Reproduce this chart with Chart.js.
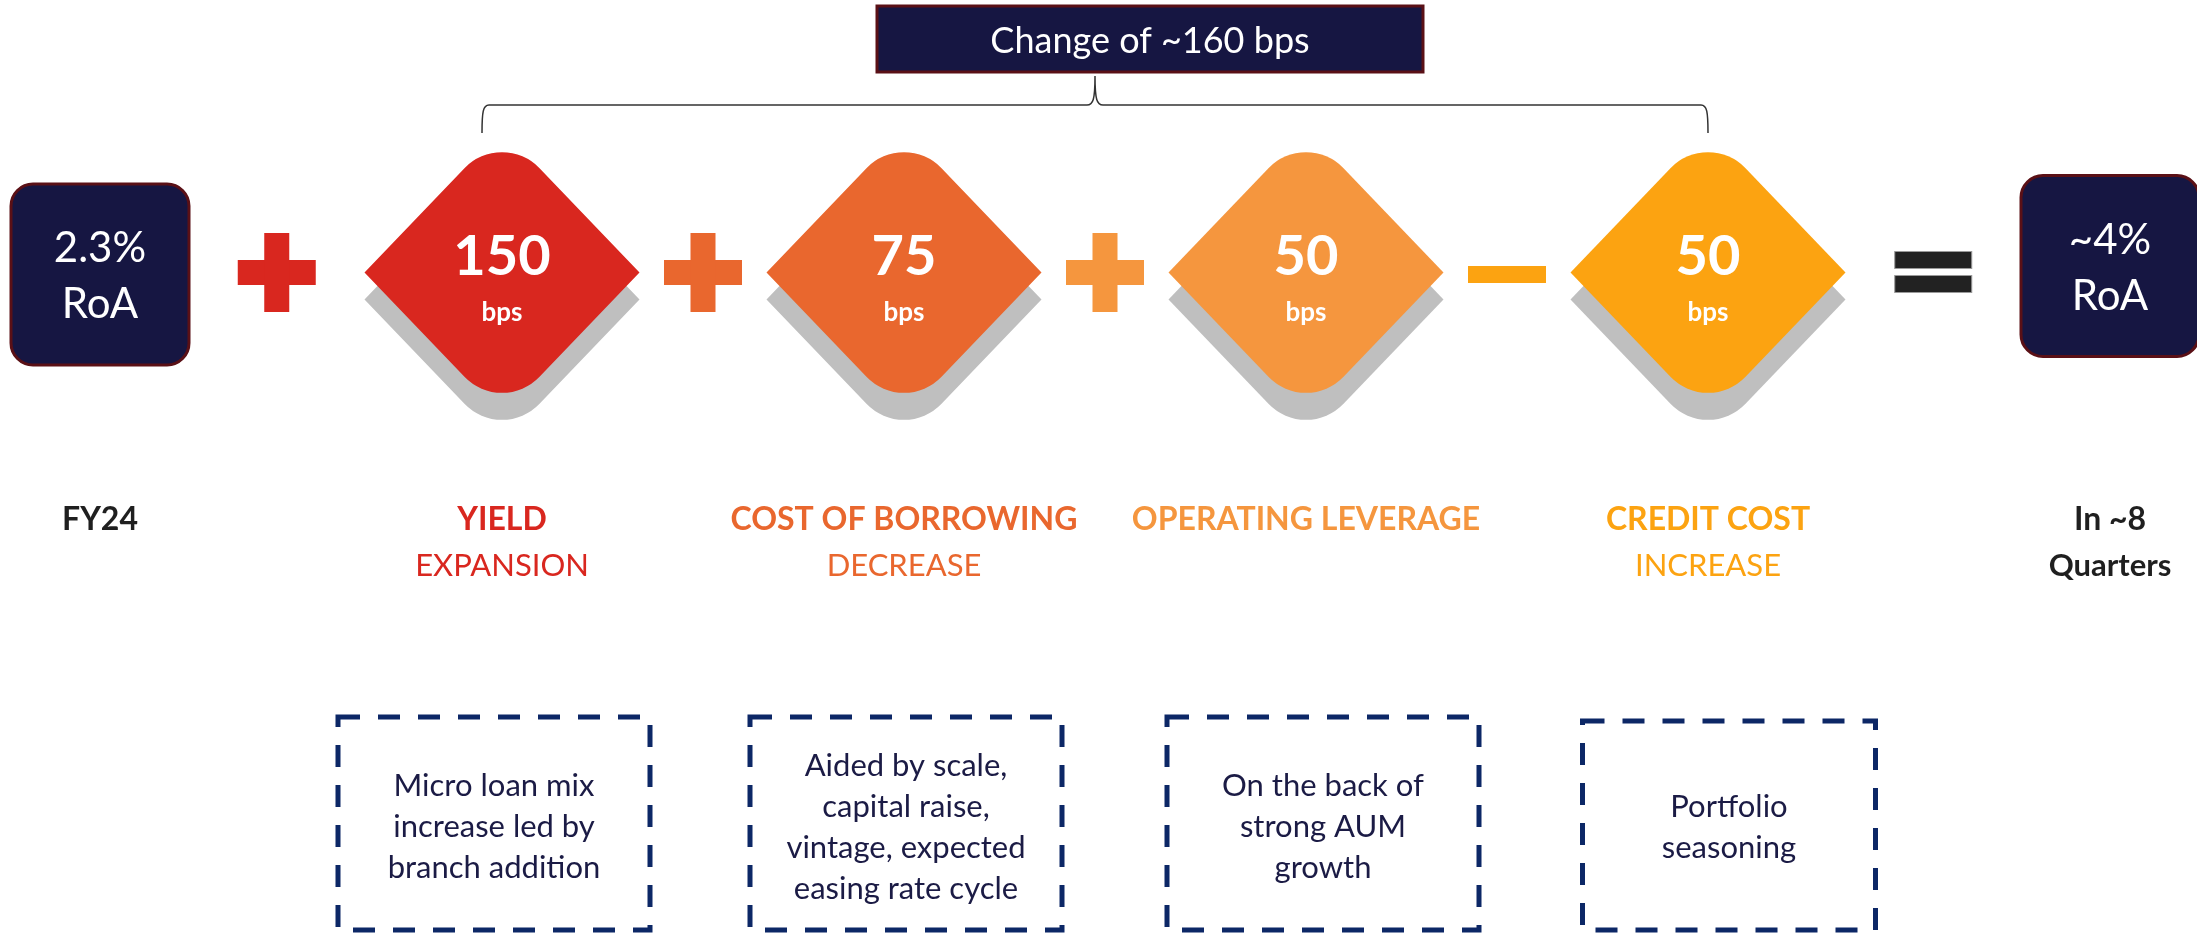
<!DOCTYPE html>
<html>
<head>
<meta charset="utf-8">
<title>RoA bridge</title>
<script src="https://cdn.jsdelivr.net/npm/chart.js@4.4.1/dist/chart.umd.min.js"></script>
<style>
  html, body { margin: 0; padding: 0; background: #fff; }
  #wrap { width: 2197px; height: 933px; position: relative; }
</style>
</head>
<body>
<div id="wrap"><canvas id="roaChart"></canvas></div>
<script>
// ---- data ----
const stepNames = ["FY24", "YIELD", "COST OF BORROWING", "OPERATING LEVERAGE", "CREDIT COST", "In ~8"];
const stepSubNames = ["", "EXPANSION", "DECREASE", "", "INCREASE", "Quarters"];
const startRoA = "2.3%";
const endRoA = "~4%";
const roaUnit = "RoA";
const driverValues = [150, 75, 50, 50];
const driverUnit = "bps";
const operators = ["+", "+", "+", "−", "="];
const changeLabel = "Change of ~160 bps";
const driverNotes = [
  ["Micro loan mix", "increase led by", "branch addition"],
  ["Aided by scale,", "capital raise,", "vintage, expected", "easing rate cycle"],
  ["On the back of", "strong AUM", "growth"],
  ["Portfolio", "seasoning"]
];

// ---- look ----
const FONT = "Lato, 'Open Sans', sans-serif";
const NAVY = "#161642";
const MAROON = "#5a1016";
const stepColors = ["#1f1f1f", "#d9271f", "#e9672e", "#f5963e", "#fca311", "#1f1f1f"];
const ROW_Y = 272.5;

function roundedDiamond(ctx, cx, cy, w, h, r) {
  ctx.beginPath();
  ctx.moveTo(cx - w, cy);
  ctx.arcTo(cx, cy - h, cx + w, cy, r);
  ctx.lineTo(cx + w, cy);
  ctx.arcTo(cx, cy + h, cx - w, cy, r);
  ctx.closePath();
}

function navyBox(ctx, x, y, w, h, r) {
  ctx.beginPath();
  ctx.roundRect(x, y, w, h, r);
  ctx.fillStyle = NAVY;
  ctx.fill();
  ctx.lineWidth = 3;
  ctx.strokeStyle = MAROON;
  ctx.stroke();
}

const bridgePlugin = {
  id: "bridge",
  afterDatasetsDraw(chart) {
    const ctx = chart.ctx;
    const pts = chart.getDatasetMeta(0).data;
    const yPx = (v) => chart.scales.y.getPixelForValue(v);
    const last = pts.length - 1;
    const boxHalf = 89, dHalfW = 137.5, dHalfH = 143.5;

    ctx.save();
    ctx.textAlign = "center";
    ctx.textBaseline = "alphabetic";

    // end boxes (the closing one sits a touch higher)
    [[0, startRoA, 2], [last, endRoA, -6.5]].forEach(([i, txt, dy]) => {
      const cx = pts[i].x, cy = pts[i].y + dy;
      navyBox(ctx, cx - boxHalf, cy - 90.5, boxHalf * 2, 181, 22);
      ctx.fillStyle = "#fff";
      ctx.font = "400 42px " + FONT;
      ctx.fillText(txt, cx, cy - 12.5);
      ctx.fillText(roaUnit, cx, cy + 43.5);
    });

    // diamonds with shadow
    driverValues.forEach((v, k) => {
      const p = pts[k + 1];
      roundedDiamond(ctx, p.x, p.y + 27, dHalfW, dHalfH, 52);
      ctx.fillStyle = "#bfbfbf";
      ctx.fill();
      roundedDiamond(ctx, p.x, p.y, dHalfW, dHalfH, 52);
      ctx.fillStyle = stepColors[k + 1];
      ctx.fill();
      ctx.fillStyle = "#fff";
      ctx.font = "700 56px " + FONT;
      ctx.fillText(String(v), p.x, p.y + 2.5);
      ctx.font = "700 26px " + FONT;
      ctx.fillText(driverUnit, p.x, p.y + 48.5);
    });

    // operators, centred in the gap between neighbouring shapes
    const halfOf = (i) => (i === 0 || i === last ? boxHalf : dHalfW);
    operators.forEach((op, i) => {
      const a = pts[i].x + halfOf(i), b = pts[i + 1].x - halfOf(i + 1);
      const cx = (a + b) / 2, cy = pts[i].y;
      if (op === "+") {
        ctx.fillStyle = stepColors[i + 1];
        ctx.fillRect(cx - 39, cy - 12.5, 78, 25);
        ctx.fillRect(cx - 12.5, cy - 39.5, 25, 79);
      } else if (op === "−") {
        ctx.fillStyle = stepColors[i + 1];
        ctx.fillRect(cx - 39, cy - 6.5, 78, 17);
      } else {
        ctx.fillStyle = "#222";
        ctx.strokeStyle = "#9a9a9a";
        ctx.lineWidth = 1;
        [-21, 3].forEach((dy) => {
          ctx.fillRect(cx - 38.5, cy + dy, 77, 17);
          ctx.strokeRect(cx - 38.5, cy + dy, 77, 17);
        });
      }
    });

    // labels under each step
    stepNames.forEach((name, i) => {
      const cx = pts[i].x;
      const endStep = i === 0 || i === last;
      ctx.fillStyle = stepColors[i];
      ctx.font = "700 32px " + FONT;
      ctx.fillText(name, cx, yPx(530));
      if (stepSubNames[i]) {
        ctx.font = (endStep ? "700" : "400") + " 31px " + FONT;
        ctx.fillText(stepSubNames[i], cx, yPx(576));
      }
    });

    // dashed note boxes
    const noteShift = [-8, 2, 17, 21];
    const noteWidth = [312, 312, 312, 293];
    const top = yPx(717), bottom = yPx(930);
    driverNotes.forEach((lines, k) => {
      const cx = pts[k + 1].x + noteShift[k];
      const w = noteWidth[k];
      const t = top + (k === 3 ? 4 : 0);
      ctx.setLineDash([22, 18]);
      ctx.lineWidth = 5;
      ctx.strokeStyle = "#0c2766";
      ctx.strokeRect(cx - w / 2, t, w, bottom - t);
      ctx.setLineDash([]);
      ctx.fillStyle = "#1b1b45";
      ctx.font = "400 31px " + FONT;
      const mid = yPx(837);
      lines.forEach((ln, j) => {
        ctx.fillText(ln, cx, mid + (j - (lines.length - 1) / 2) * 41);
      });
    });

    // brace over the four drivers
    const left = pts[1].x - 20, right = pts[4].x;
    const mid = (left + right) / 2;
    const yb = yPx(105), ye = yPx(133), yt = yPx(76);
    ctx.beginPath();
    ctx.moveTo(left, ye);
    ctx.bezierCurveTo(left, yb + 7, left + 1, yb, left + 7, yb);
    ctx.lineTo(mid - 8, yb);
    ctx.bezierCurveTo(mid - 2, yb, mid, yb - 5, mid, yt);
    ctx.bezierCurveTo(mid, yb - 5, mid + 2, yb, mid + 8, yb);
    ctx.lineTo(right - 7, yb);
    ctx.bezierCurveTo(right - 1, yb, right, yb + 7, right, ye);
    ctx.lineWidth = 1.5;
    ctx.strokeStyle = "#333";
    ctx.stroke();

    // headline box
    const hx = mid + 55;
    ctx.fillStyle = NAVY;
    ctx.fillRect(hx - 273, yPx(6), 546, 66);
    ctx.lineWidth = 3;
    ctx.strokeStyle = MAROON;
    ctx.strokeRect(hx - 273, yPx(6), 546, 66);
    ctx.fillStyle = "#fff";
    ctx.font = "400 36px " + FONT;
    ctx.fillText(changeLabel, hx, yPx(53));

    ctx.restore();
  }
};

new Chart(document.getElementById("roaChart"), {
  type: "scatter",
  data: {
    datasets: [{
      data: stepNames.map((_, i) => ({ x: i, y: ROW_Y })),
      pointRadius: 0,
      pointHoverRadius: 0
    }]
  },
  options: {
    responsive: true,
    maintainAspectRatio: false,
    animation: false,
    devicePixelRatio: 1,
    layout: { padding: { left: 100, right: 87, top: 0, bottom: 0 } },
    scales: {
      x: { type: "linear", min: 0, max: stepNames.length - 1, display: false },
      y: { type: "linear", min: 0, max: 933, reverse: true, display: false }
    },
    plugins: { legend: { display: false }, tooltip: { enabled: false } },
    events: []
  },
  plugins: [bridgePlugin]
});
</script>
</body>
</html>
